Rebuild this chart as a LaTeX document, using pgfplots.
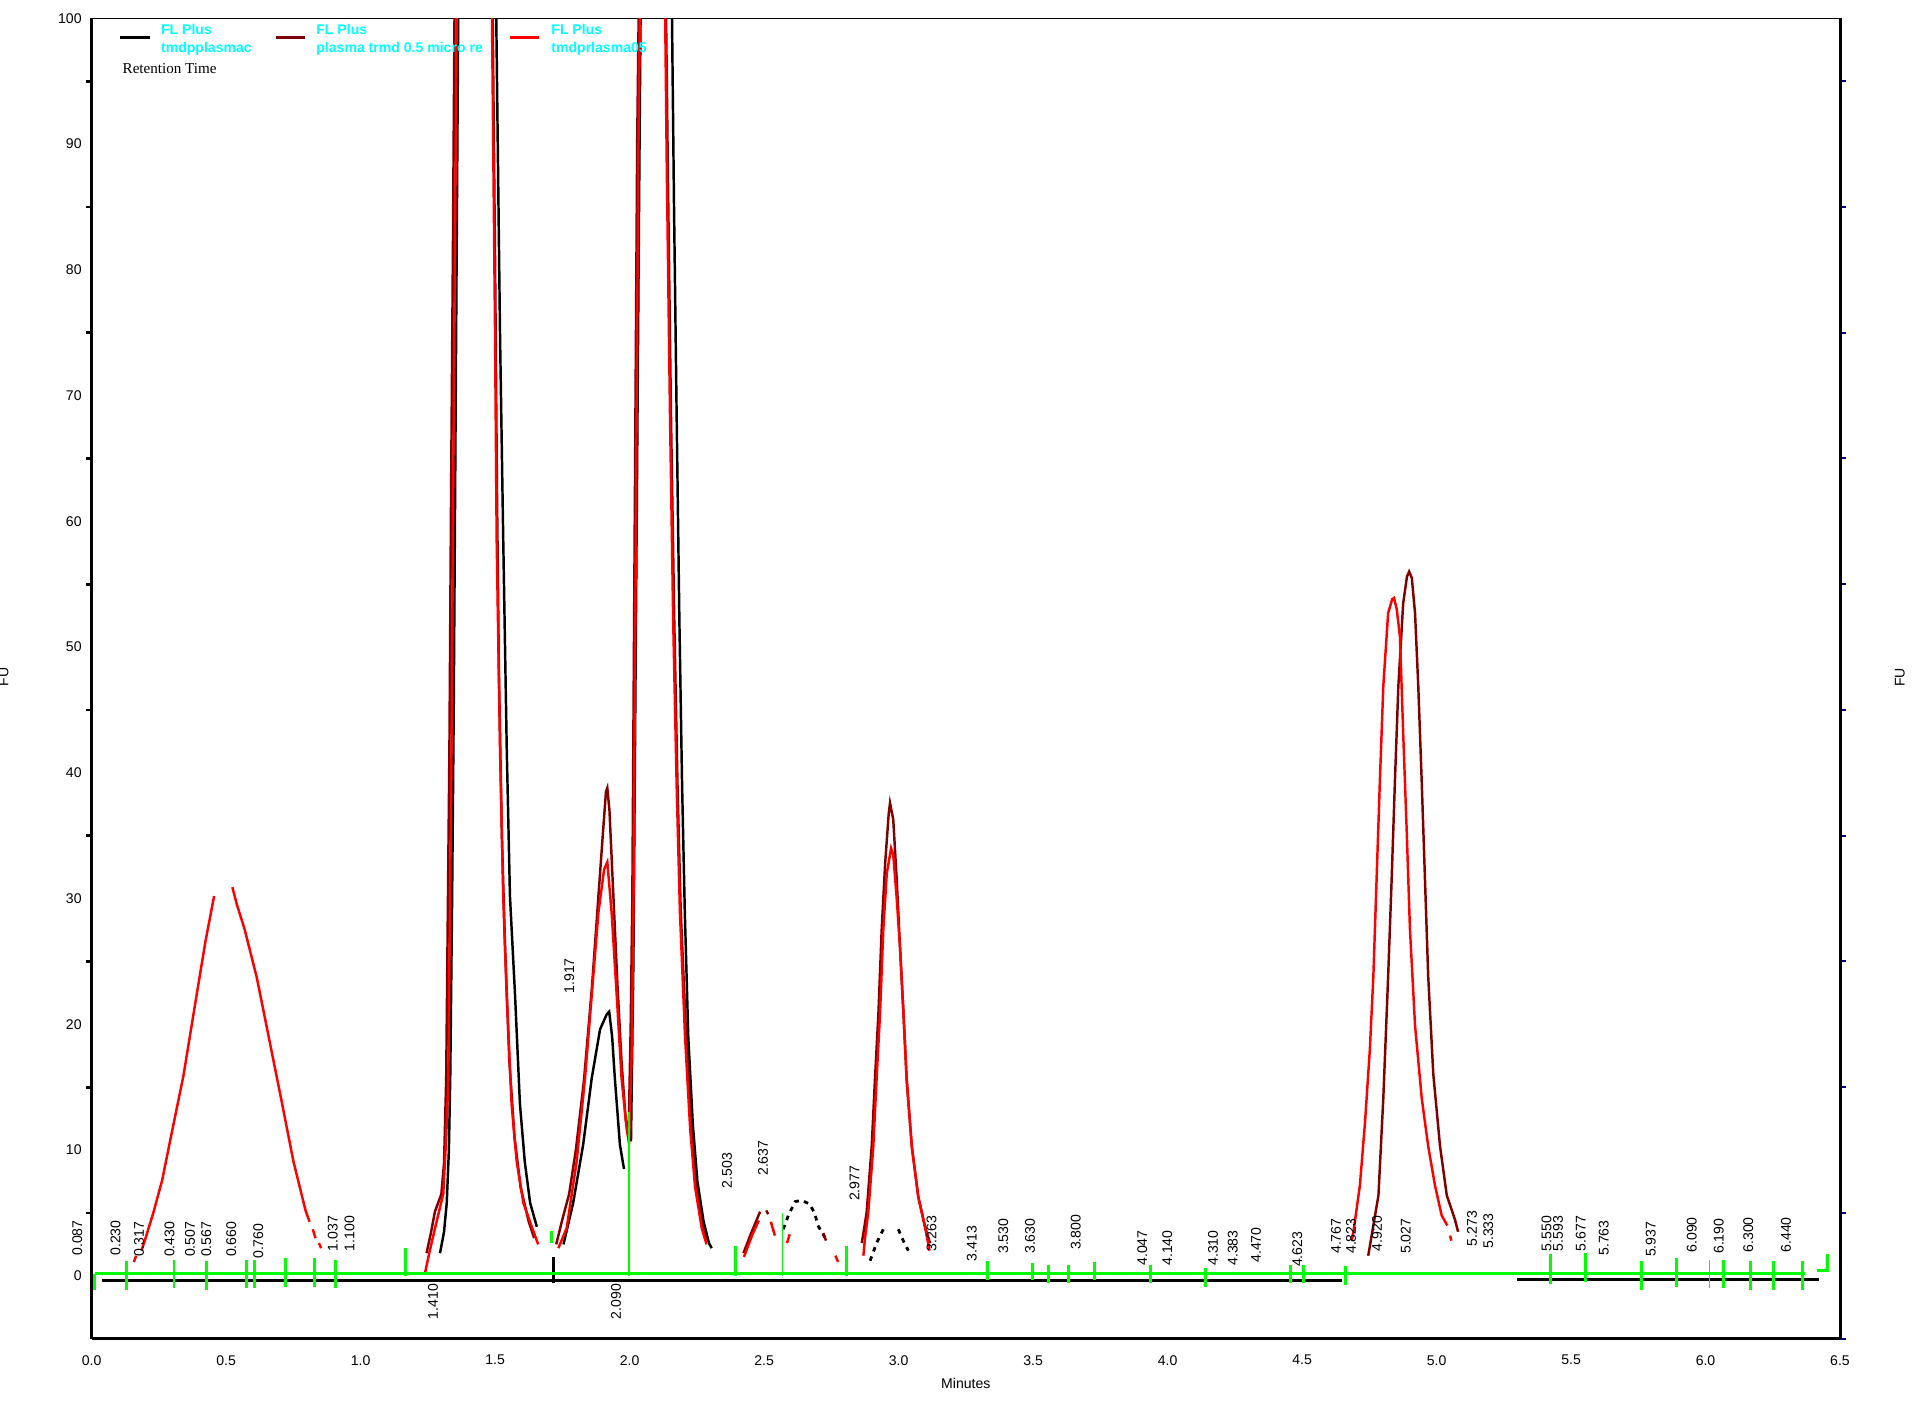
\documentclass[border=0pt]{standalone}
\usepackage{fontspec}
\setmainfont{Liberation Sans}
\newfontfamily\seriffont{Liberation Serif}
\usepackage{pgfplots}
\pgfplotsset{compat=1.18}
\definecolor{maroonc}{RGB}{128,0,0}
\definecolor{navyc}{RGB}{0,0,128}
\definecolor{limec}{RGB}{0,255,0}
\definecolor{cyanc}{RGB}{0,255,255}
\newcommand\tf{\fontsize{4}{4.8}\selectfont}
\tikzset{plab/.style={rotate=90, font=\tf, inner sep=0pt, anchor=west},
         plabd/.style={rotate=90, font=\tf, inner sep=0pt, anchor=east}}
\begin{document}
\begin{tikzpicture}
\path[use as bounding box] (-0.917cm,-0.648cm) rectangle (18.253cm,13.387cm);
% right and top axis lines
\begin{axis}[at={(0,0)}, anchor=south west, scale only axis,
  width=17.483cm, height=13.204cm,
  xmin=0, xmax=6.5, ymin=-5, ymax=100,
  axis x line*=top, axis y line*=right, axis line style={-},
  separate axis lines,
  x axis line style={line width=0.35pt},
  y axis line style={line width=0.85pt},
  xtick=\empty,
  ytick={-5,5,15,25,35,45,55,65,75,85,95},
  yticklabels={,,,,,,,,,,},
  ytick align=outside, major tick length=0.06cm,
  ytick style={color=navyc, line width=0.6pt}]
\end{axis}
\begin{axis}[at={(0,0)}, anchor=south west, scale only axis,
  width=17.483cm, height=13.204cm,
  xmin=0, xmax=6.5, ymin=-5, ymax=100,
  axis x line*=bottom, axis y line*=left,
  axis line style={-, line width=0.85pt},
  xtick={0,0.5,1,1.5,2,2.5,3,3.5,4,4.5,5,5.5,6,6.5},
  ytick={0,10,20,30,40,50,60,70,80,90,100},
  minor ytick={5,15,25,35,45,55,65,75,85,95},
  tick align=outside, major tick length=0pt, minor tick length=0.055cm,
  minor tick style={black, line width=0.8pt},
  /pgf/number format/assume math mode=true,
  xticklabel style={font=\tf, inner sep=0pt, anchor=north, yshift=-0.159cm,
    /pgf/number format/fixed, /pgf/number format/fixed zerofill,
    /pgf/number format/precision=1},
  yticklabel style={font=\tf, inner sep=0pt, anchor=east, xshift=-0.094cm},
  xlabel={Minutes},
  xlabel style={font=\tf, at={(axis description cs:0.5,0)}, anchor=north, inner sep=0pt, yshift=-0.39cm},
  clip mode=individual, unbounded coords=jump]
% black baseline
\addplot[black, line width=0.9pt] coordinates {(0.04,-0.35) (4.65,-0.35) (4.7,nan) (5.30,-0.3) (6.42,-0.3)};
% black trace
\addplot[black, line width=0.7pt] coordinates {
(1.295,1.8) (1.31,3.5) (1.32,5.8) (1.328,10) (1.333,15.7) (1.34,30) (1.346,45) (1.352,65) (1.358,85) (1.363,101) (1.40,160) (1.47,160) (1.503,102) (1.518,75) (1.53,58.6) (1.543,42) (1.555,30.2) (1.574,22.3) (1.592,13.7) (1.61,9.1) (1.63,5.8) (1.655,3.9)
(1.66,nan)
(1.754,2.5) (1.79,5.8) (1.827,10.4) (1.859,15.7) (1.89,19.6) (1.915,20.8) (1.924,21) (1.935,19) (1.945,15.7) (1.964,10.4) (1.979,8.5)
(1.99,nan)
(2.005,10.7) (2.014,25) (2.021,45) (2.028,65) (2.035,85) (2.041,101) (2.08,160) (2.12,160) (2.157,101) (2.165,85) (2.175,68) (2.185,52) (2.195,39) (2.205,29) (2.218,19) (2.235,12) (2.252,7.5) (2.275,4.3) (2.295,2.6) (2.305,2.2)
};
\addplot[black, line width=0.6pt] coordinates {(1.717,-0.6) (1.717,1.5)};
\addplot[black, line width=0.8pt, dash pattern=on 1.3pt off 1.5pt] coordinates {(2.571,3.7) (2.59,4.8) (2.615,5.9) (2.64,6.0) (2.67,5.7) (2.689,4.9) (2.7,4.0) (2.726,3.05)};
\addplot[black, line width=0.8pt, dash pattern=on 1.3pt off 1.5pt] coordinates {(2.894,1.2) (2.918,2.6) (2.943,3.7) (2.97,nan) (2.999,3.7) (3.017,2.8) (3.036,2.0)};
% dark red trace
\addplot[maroonc, line width=0.7pt] coordinates {
(1.245,1.8) (1.262,3.5) (1.276,5.1) (1.3,6.5) (1.31,9) (1.318,15.7) (1.324,28.9) (1.33,42) (1.336,61.9) (1.343,81.7) (1.349,100.5) (1.40,160) (1.45,160) (1.49,102) (1.5,80) (1.507,62) (1.514,48) (1.525,35) (1.537,26) (1.553,17) (1.572,11) (1.595,7) (1.625,4.3) (1.645,3.0)
(1.65,nan)
(1.727,2.5) (1.75,4.5) (1.775,6.5) (1.80,10) (1.83,15.5) (1.86,23) (1.88,29) (1.9,35) (1.912,38.5) (1.917,38.8) (1.925,37) (1.94,30) (1.955,23) (1.97,17) (1.985,12.5) (1.996,11) (2.004,20) (2.01,30) (2.016,50) (2.022,70) (2.028,90) (2.034,101) (2.06,160) (2.11,160) (2.135,101) (2.142,88) (2.154,68) (2.166,52) (2.178,39) (2.19,29) (2.21,19) (2.228,12) (2.245,7.5) (2.268,4.3) (2.285,2.8)
(2.29,nan)
(2.423,1.8) (2.45,3.3) (2.485,5.1) (2.49,nan) (2.508,5.2) (2.515,4.9) (2.52,nan)
(2.72,3.4) (2.73,2.8) (2.74,nan)
(2.863,2.6) (2.881,5.0) (2.9,10.3) (2.912,15.6) (2.925,20.9) (2.937,27.5) (2.95,32.8) (2.963,36.7) (2.968,37.6) (2.98,36.3) (2.993,31.5) (3.005,26.2) (3.018,20.9) (3.03,15.6) (3.049,10.3) (3.073,6.3) (3.098,3.9) (3.117,2.6)
(3.12,nan)
(4.746,1.6) (4.784,6.4) (4.802,14.1) (4.82,23.8) (4.833,31.5) (4.845,39.2) (4.858,46.9) (4.876,53.5) (4.89,55.6) (4.898,56.0) (4.908,55.5) (4.92,52.7) (4.932,46.9) (4.945,39.2) (4.957,31.5) (4.969,23.8) (4.988,16.0) (5.013,10.3) (5.038,6.4) (5.068,4.5) (5.08,3.5)
};
% red trace
\addplot[red, line width=0.7pt] coordinates {
(0.157,1.1) (0.165,1.6) (0.17,nan)
(0.185,2.0) (0.196,2.7) (0.229,5.0) (0.262,7.6) (0.295,11.1) (0.341,15.9) (0.386,21.8) (0.423,26.6) (0.44,28.5) (0.455,30.2)
(0.49,nan)
(0.523,30.9) (0.54,29.5) (0.568,27.6) (0.614,23.7) (0.659,18.9) (0.705,14.0) (0.75,9.1) (0.795,5.2) (0.81,4.3)
(0.815,nan) (0.822,3.7) (0.832,3.0) (0.837,nan) (0.845,2.6) (0.853,2.2)
(0.86,nan)
(1.239,0.2) (1.255,1.8) (1.27,3.2) (1.29,5.0) (1.307,6.5) (1.318,11) (1.326,15.7) (1.332,28.9) (1.338,42) (1.344,61.9) (1.351,81.7) (1.357,100.1) (1.40,160) (1.45,160) (1.488,100.5) (1.4996,75) (1.5056,58.6) (1.518,42) (1.53,30.2) (1.543,22.3) (1.561,13.7) (1.58,9.1) (1.605,5.8) (1.636,3.9) (1.66,2.5)
(1.7,nan)
(1.735,2.2) (1.766,3.8) (1.803,9.1) (1.834,15.7) (1.859,22.3) (1.884,28.9) (1.905,32.3) (1.917,32.9) (1.933,28.9) (1.952,22.3) (1.97,15.7) (1.989,11.7) (1.998,10.5) (2.008,18) (2.014,28.9) (2.02,48.7) (2.026,68.5) (2.032,88.3) (2.038,100.5) (2.06,160) (2.11,160) (2.132,100.5) (2.138,88.3) (2.15,68.5) (2.162,52) (2.175,38.8) (2.187,28.9) (2.206,19) (2.225,11.7) (2.243,7.1) (2.268,3.8) (2.286,2.5)
(2.3,nan)
(2.425,1.5) (2.455,3.2) (2.48,4.4) (2.5,nan) (2.525,4.3) (2.54,3.2) (2.56,nan) (2.585,2.6) (2.595,3.3) (2.6,nan) (2.765,1.6) (2.775,1.1) (2.8,nan)
(2.869,1.6) (2.875,3.0) (2.887,5.0) (2.906,10.3) (2.918,15.6) (2.931,20.9) (2.943,27.5) (2.956,32.0) (2.972,34.0) (2.98,33.5) (2.993,30) (3.005,26.2) (3.018,20.9) (3.03,15.6) (3.049,10.3) (3.073,6.3) (3.098,3.9) (3.115,2.0)
(3.2,nan)
(4.685,2.8) (4.691,3.5) (4.715,7.2) (4.734,12.2) (4.752,18.0) (4.765,23.8) (4.777,31.5) (4.789,39.2) (4.802,46.9) (4.82,52.7) (4.835,53.8) (4.842,53.9) (4.852,53) (4.864,50.8) (4.876,43.1) (4.889,35.4) (4.901,27.6) (4.92,19.9) (4.945,14.1) (4.969,10.3) (4.994,7.2) (5.019,4.8) (5.04,4.0)
(5.045,nan) (5.05,3.2) (5.055,2.8)
};
% green integration baseline and event marks
\addplot[limec, line width=0.85pt] coordinates {
(0.012,0.15) (6.37,0.15) (6.39,nan)
(6.414,0.4) (6.452,0.4) (6.452,1.7) (6.46,nan)
(0.012,-1.1) (0.012,0.15) (0.02,nan)
(0.128,-1.1) (0.128,1.2) (0.13,nan)
(0.306,-1.0) (0.306,1.25) (0.31,nan)
(0.427,-1.1) (0.427,1.2) (0.43,nan)
(0.574,-1.0) (0.574,1.25) (0.58,nan)
(0.607,-1.0) (0.607,1.25) (0.61,nan)
(0.719,-0.9) (0.719,1.4) (0.72,nan)
(0.827,-0.9) (0.827,1.4) (0.83,nan)
(0.905,-1.0) (0.905,1.25) (0.91,nan)
(1.168,0) (1.168,2.2) (1.17,nan)
(1.71,2.6) (1.71,3.6) (1.72,nan)
(2.392,0) (2.392,2.4) (2.4,nan)
(2.807,0) (2.807,2.4) (2.81,nan)
(3.331,-0.3) (3.331,1.15) (3.34,nan)
(3.497,-0.3) (3.497,1.0) (3.5,nan)
(3.557,-0.6) (3.557,0.9) (3.56,nan)
(3.631,-0.6) (3.631,0.9) (3.64,nan)
(3.73,-0.3) (3.73,1.1) (3.74,nan)
(3.938,-0.6) (3.938,0.9) (3.94,nan)
(4.142,-0.86) (4.142,0.65) (4.15,nan)
(4.457,-0.6) (4.457,0.9) (4.46,nan)
(4.507,-0.6) (4.507,0.9) (4.51,nan)
(4.661,-0.75) (4.661,0.8) (4.67,nan)
(5.423,-0.63) (5.423,1.7) (5.43,nan)
(5.552,-0.5) (5.552,1.8) (5.56,nan)
(5.762,-1.1) (5.762,1.2) (5.77,nan)
(5.891,-0.9) (5.891,1.4) (5.9,nan)
(6.068,-1.0) (6.068,1.25) (6.07,nan)
(6.168,-1.1) (6.168,1.2) (6.17,nan)
(6.251,-1.1) (6.251,1.2) (6.26,nan)
(6.362,-1.1) (6.362,1.2)
};
\addplot[limec, line width=0.4pt] coordinates {(1.998,0) (1.998,13) (2.0,nan) (2.568,0) (2.568,5.0) (2.57,nan) (6.014,-1.0) (6.014,1.25)};
% peak labels
\node[plab] at (axis cs:-0.054,1.55) {0.087};
\node[plab] at (axis cs:0.089,1.55) {0.230};
\node[plab] at (axis cs:0.176,1.45) {0.317};
\node[plab] at (axis cs:0.289,1.45) {0.430};
\node[plab] at (axis cs:0.366,1.45) {0.507};
\node[plab] at (axis cs:0.426,1.45) {0.567};
\node[plab] at (axis cs:0.519,1.45) {0.660};
\node[plab] at (axis cs:0.619,1.3) {0.760};
\node[plab] at (axis cs:0.896,1.9) {1.037};
\node[plab] at (axis cs:0.959,1.9) {1.100};
\node[plabd] at (axis cs:1.269,-0.6) {1.410};
\node[plab] at (axis cs:1.776,22.4) {1.917};
\node[plabd] at (axis cs:1.949,-0.6) {2.090};
\node[plab] at (axis cs:2.362,6.9) {2.503};
\node[plab] at (axis cs:2.496,7.9) {2.637};
\node[plab] at (axis cs:2.836,5.9) {2.977};
\node[plab] at (axis cs:3.122,1.9) {3.263};
\node[plab] at (axis cs:3.272,1.1) {3.413};
\node[plab] at (axis cs:3.389,1.7) {3.530};
\node[plab] at (axis cs:3.489,1.7) {3.630};
\node[plab] at (axis cs:3.659,2.0) {3.800};
\node[plab] at (axis cs:3.906,0.76) {4.047};
\node[plab] at (axis cs:3.999,0.76) {4.140};
\node[plab] at (axis cs:4.169,0.76) {4.310};
\node[plab] at (axis cs:4.242,0.76) {4.383};
\node[plab] at (axis cs:4.329,1.0) {4.470};
\node[plab] at (axis cs:4.482,0.66) {4.623};
\node[plab] at (axis cs:4.626,1.7) {4.767};
\node[plab] at (axis cs:4.682,1.7) {4.823};
\node[plab] at (axis cs:4.779,1.9) {4.920};
\node[plab] at (axis cs:4.886,1.7) {5.027};
\node[plab] at (axis cs:5.132,2.3) {5.273};
\node[plab] at (axis cs:5.192,2.1) {5.333};
\node[plab] at (axis cs:5.409,1.9) {5.550};
\node[plab] at (axis cs:5.452,1.9) {5.593};
\node[plab] at (axis cs:5.536,1.9) {5.677};
\node[plab] at (axis cs:5.622,1.55) {5.763};
\node[plab] at (axis cs:5.796,1.45) {5.937};
\node[plab] at (axis cs:5.949,1.8) {6.090};
\node[plab] at (axis cs:6.049,1.7) {6.190};
\node[plab] at (axis cs:6.159,1.8) {6.300};
\node[plab] at (axis cs:6.299,1.8) {6.440};
\end{axis}
% legend
\draw[black, line width=0.8pt] (0.287,13.01) -- (0.583,13.01);
\draw[maroonc, line width=0.8pt] (1.846,13.01) -- (2.133,13.01);
\draw[red, line width=0.8pt] (4.187,13.01) -- (4.475,13.01);
\node[anchor=base west, inner sep=0pt, text=cyanc, font=\tf\bfseries] at (0.687,13.038) {FL Plus};
\node[anchor=base west, inner sep=0pt, text=cyanc, font=\tf\bfseries] at (0.687,12.862) {tmdpplasmac};
\node[anchor=base west, inner sep=0pt, text=cyanc, font=\tf\bfseries] at (2.240,13.038) {FL Plus};
\node[anchor=base west, inner sep=0pt, text=cyanc, font=\tf\bfseries] at (2.240,12.862) {plasma trmd 0.5 micro re};
\node[anchor=base west, inner sep=0pt, text=cyanc, font=\tf\bfseries] at (4.590,13.038) {FL Plus};
\node[anchor=base west, inner sep=0pt, text=cyanc, font=\tf\bfseries] at (4.590,12.862) {tmdprlasma05};
\node[anchor=base west, inner sep=0pt, font=\seriffont\fontsize{4.3}{5}\selectfont] at (0.303,12.648) {Retention Time};
% axis titles
\node[rotate=90, font=\tf, inner sep=0pt] at (18.082,6.614) {FU};
\node[rotate=90, font=\tf, inner sep=0pt] at (-0.880,6.62) {FU};
\end{tikzpicture}
\end{document}
